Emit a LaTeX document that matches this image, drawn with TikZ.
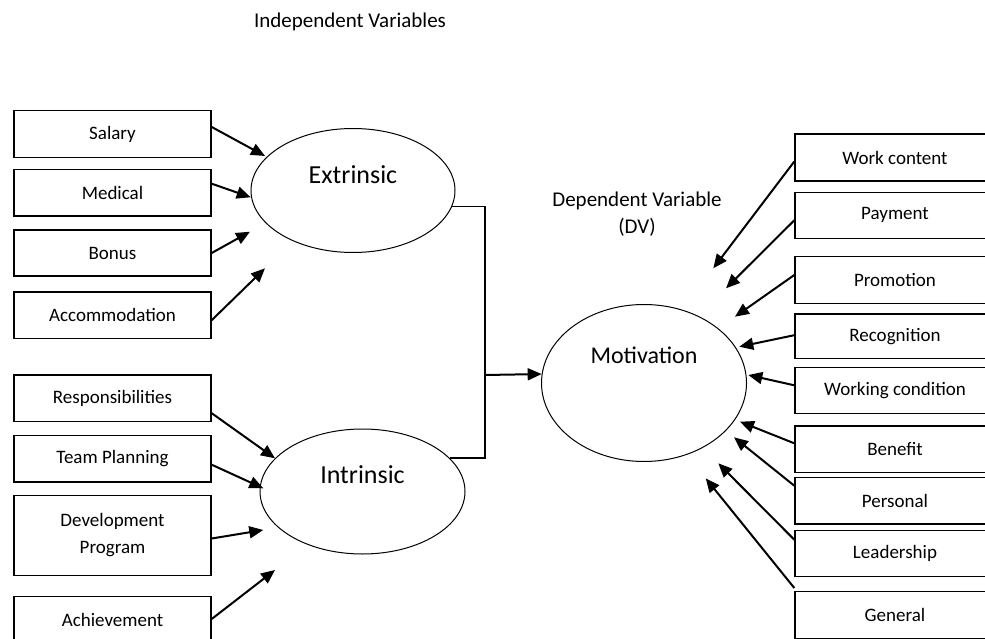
\documentclass[tikz,border=0pt]{standalone}
\usepackage{fontspec}
\setmainfont{Carlito}
\usetikzlibrary{arrows.meta,shapes.geometric}

\begin{document}
\begin{tikzpicture}
[x=1pt,y=-1pt,
  boxDecorate/.style={shape=rectangle,draw,line width=1.4pt,inner sep=0pt,minimum height=46pt,align=center,font=\fontsize{19}{27}\selectfont},%
  ovalDecorate/.style={shape=ellipse,draw,line width=1pt,inner sep=0pt},%
  headDecorate/.style={font=\fontsize{21}{27}\selectfont,align=center},%
  lineDecorate/.style={-{Triangle[length=14pt,width=12pt]},line width=2pt},%
  linkDecorate/.style={-,line width=1.2pt}]
\useasboundingbox (0,0) rectangle (985,639);
\clip (0,0) rectangle (985,639);
%% titles
\node (iv) at (350,22) [headDecorate] {Independent Variables};
\node (dv) at (637,214) [headDecorate] {Dependent Variable\\(DV)};
%% ellipses
\node (ext) at (353,190.5) [ovalDecorate,minimum width=204pt,minimum height=124pt,
  label={[font=\fontsize{26}{30}\selectfont,yshift=16pt]center:Extrinsic}] {};
\node (int) at (362.5,491.5) [ovalDecorate,minimum width=205pt,minimum height=125pt,
  label={[font=\fontsize{26}{30}\selectfont,yshift=17pt]center:Intrinsic}] {};
\node (mot) at (644,383) [ovalDecorate,minimum width=205pt,minimum height=157pt,
  label={[font=\fontsize{24}{28}\selectfont,yshift=28pt]center:Motivation}] {};
%% left boxes
\foreach \nodename/\y/\h/\txt in {sal/134/46.6/Salary, med/192.7/46.7/Medical, bon/253/46/Bonus,
  acc/315.2/46.3/Accommodation, res/398.2/46.3/Responsibilities, tea/458.7/46.7/Team Planning,
  dev/535.5/79.6/{Development\\Program}, ach/620/46.6/Achievement}
{
  \node (\nodename) at (112.5,\y) [boxDecorate,minimum width=197pt,minimum height=\h pt] {\txt};
}
%% right boxes
\foreach \nodename/\y/\h/\txt in {wc/157.5/47/Work content, pay/215.3/46/Payment, pro/280/46.6/Promotion,
  rec/336.2/44.3/Recognition, wco/390.3/46/Working condition, ben/449.3/46.7/Benefit,
  per/500.7/46.7/Personal, lea/553.7/46/Leadership, gen/615/46.6/General}
{
  \node (\nodename) at (895,\y) [boxDecorate,minimum width=200pt,minimum height=\h pt] {\txt};
}
%% arrows from the left boxes
\foreach \startnode/\dy/\x/\y in {sal/7/265/156, med/9/250.7/197.3, bon/0/250/231.7, acc/-5/265/268.3,
  res/-15/275/458.3, tea/-6/263.3/488.3, dev/-3/263.3/530, ach/1/275/570}
{
  \coordinate (t\startnode) at (\x,\y);
  \draw[lineDecorate] ([yshift=\dy pt]\startnode.east) -- (t\startnode);
}
%% arrows from the right boxes
\foreach \startnode/\dy/\x/\y in {wc/-4/713.3/268.3, pay/-5/726/288.3, pro/5/735/316.7, rec/1/739.3/346.7,
  wco/5/748.3/375, ben/6/740/421.7, per/15/734/437.3, lea/14/718.3/463.3, gen/27/705.7/478.3}
{
  \coordinate (t\startnode) at (\x,\y);
  \draw[lineDecorate] ([yshift=\dy pt]\startnode.west) -- (t\startnode);
}
%% joining both factors to motivation
\coordinate (jn) at (485,375);
\draw[linkDecorate] (ext.-9.5) -| (jn);
\draw[linkDecorate] (int.21) -| (jn);
\draw[lineDecorate] (jn) -- (mot.175.5);
\end{tikzpicture}
\end{document}
